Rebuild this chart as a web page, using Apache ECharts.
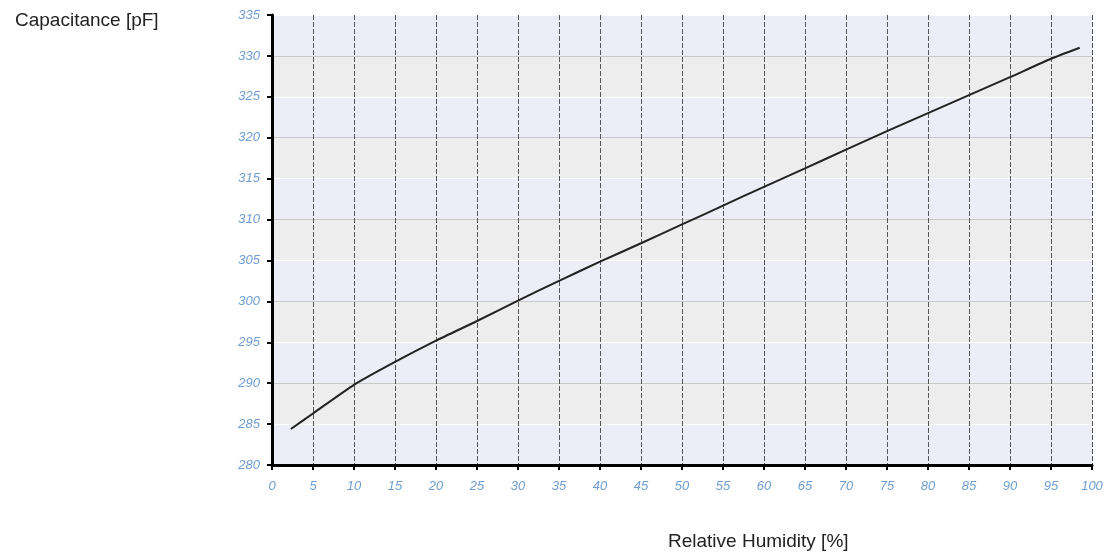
<!DOCTYPE html>
<html>
<head>
<meta charset="utf-8">
<title>Capacitance vs Relative Humidity</title>
<script src="https://cdn.jsdelivr.net/npm/echarts@6/dist/echarts.min.js"></script>
<style>
  html, body { margin: 0; padding: 0; background: #fff; }
  #chart { width: 1112px; height: 559px; }
</style>
</head>
<body>
<div id="chart"></div>
<script>
// curve
var humidity = [2.3, 5, 10, 15, 20, 25, 30, 35, 40, 45, 50, 55, 60, 65, 70, 75, 80, 85, 90, 95, 98.5];
var capacitance = [284.4, 286.3, 289.8, 292.6, 295.2, 297.6, 300.1, 302.5, 304.85, 307.1, 309.4,
    311.7, 314.0, 316.25, 318.55, 320.8, 323.0, 325.2, 327.4, 329.65, 331.0];

var yTitle = 'Capacitance [pF]';
var xTitle = 'Relative Humidity [%]';

var points = humidity.map(function (h, i) { return [h, capacitance[i]]; });

var labelStyle = {
    color: '#6e9dd1',
    fontStyle: 'italic',
    fontFamily: 'Liberation Sans, Arial, sans-serif',
    fontSize: 13
};

var chart = echarts.init(document.getElementById('chart'));
chart.setOption({
    animation: false,
    title: [{
        text: yTitle,
        left: 10,
        top: 6,
        textStyle: { color: '#222', fontWeight: 'normal', fontSize: 19, fontFamily: 'Liberation Sans, Arial, sans-serif' }
    }, {
        text: xTitle,
        left: 663,
        top: 527,
        textStyle: { color: '#222', fontWeight: 'normal', fontSize: 19, fontFamily: 'Liberation Sans, Arial, sans-serif' }
    }],
    grid: {
        left: 272,
        right: 20,
        top: 15,
        bottom: 94
    },
    xAxis: {
        type: 'value',
        min: 0,
        max: 100,
        interval: 5,
        axisLine: { show: true, lineStyle: { color: '#000', width: 3 } },
        axisTick: { show: true, length: 5, lineStyle: { color: '#000', width: 2 } },
        axisLabel: Object.assign({ margin: 15 }, labelStyle),
        splitLine: {
            show: true,
            lineStyle: { color: '#555', width: 1, type: [5, 2] }
        }
    },
    yAxis: {
        type: 'value',
        min: 280,
        max: 335,
        interval: 5,
        axisLine: { show: true, lineStyle: { color: '#000', width: 3 } },
        axisTick: { show: true, length: 5, lineStyle: { color: '#000', width: 2 } },
        axisLabel: Object.assign({ margin: 12 }, labelStyle),
        splitLine: {
            show: true,
            lineStyle: { color: ['#c9c9c9', '#ffffff'], width: 1 }
        },
        splitArea: {
            show: true,
            areaStyle: { color: ['#ededf7', '#ededed'] }
        }
    },
    series: [{
        type: 'line',
        data: points,
        smooth: 0.2,
        symbol: 'none',
        lineStyle: { color: '#222', width: 2 }
    }]
});
</script>
</body>
</html>
